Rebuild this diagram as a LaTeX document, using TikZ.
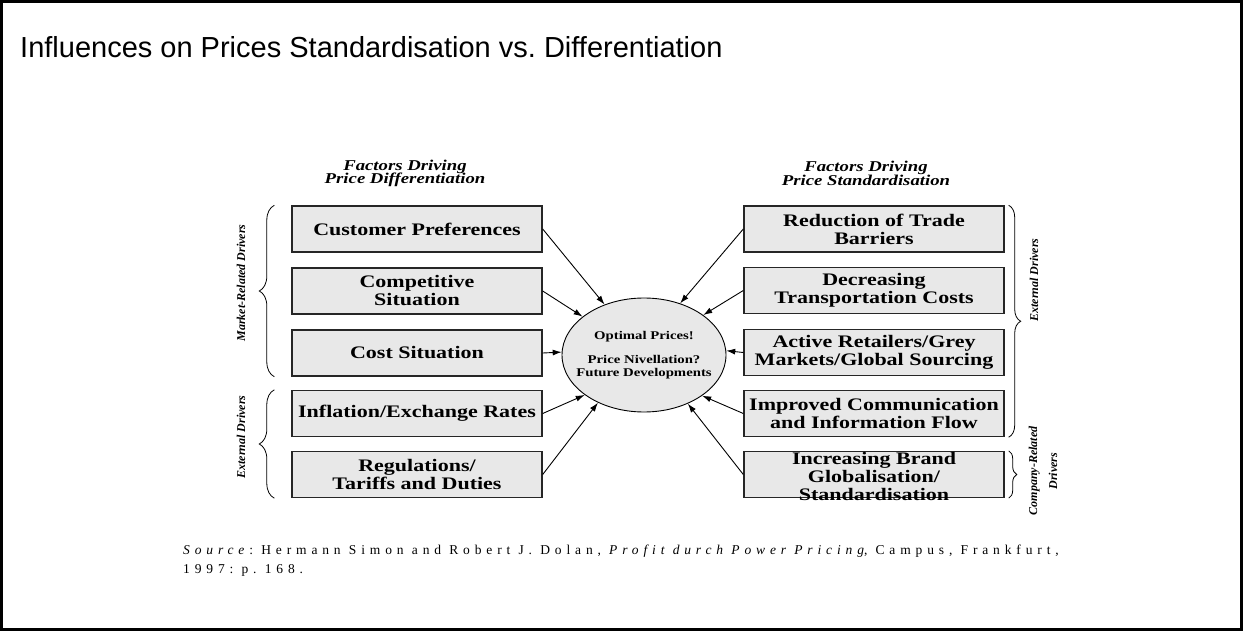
\documentclass[tikz,border=0pt]{standalone}
\usepackage{fontspec}
\setmainfont{Liberation Serif}
\newfontfamily\widefont{Liberation Serif}[FakeStretch=1.25]
\newfontfamily\titlefont{Liberation Sans}
\newfontfamily\srcfont{Liberation Serif}[LetterSpace=36]
\usetikzlibrary{shapes.geometric,arrows.meta,decorations.pathreplacing}
\definecolor{boxgray}{HTML}{E8E8E8}
\newcommand{\fsz}[2]{\fontsize{#1}{#2}\selectfont\lineskiplimit=-50pt\relax}
\frenchspacing

\begin{document}
\begin{tikzpicture}[x=1pt, y=-1pt,
    factor/.style={draw=black!85, line width=1.4pt, fill=boxgray, minimum height=46pt,
      inner sep=0pt, align=center, font=\widefont\bfseries\fsz{17.6}{18}},
    heading/.style={align=center, inner sep=0pt, font=\widefont\bfseries\itshape\fsz{15}{13.5}},
    driver/.style={rotate=90, align=center, inner sep=0pt, font=\bfseries\itshape\fsz{12}{20}},
    feed/.style={-{Latex[length=9pt,width=6pt]}, line width=0.9pt},
    grouping/.style={decorate, decoration={brace, amplitude=#1}, line width=0.8pt}]

    \def \lx {417} % centre of the left column
    \def \rx {874} % centre of the right column
    \useasboundingbox (0,0) rectangle (1243,631);
    \draw[line width=3pt] (1.5,1.5) rectangle (1241.5,629.5);

    \node[anchor=base west, inner sep=0pt, font=\titlefont\fontsize{29}{34}\selectfont] (title) at (20,58)
      {Influences on Prices Standardisation vs. Differentiation};

    % column headings
    \node[heading] (hdiff) at (405,173.5) {Factors Driving\\Price Differentiation};
    \node[heading] (hstan) at (866,173.5) {Factors Driving\\Price Standardisation};

    % the price in the middle (text kept apart so the ellipse keeps its size)
    \node[ellipse, draw, line width=0.9pt, fill=boxgray, minimum width=164pt, minimum height=114pt,
      inner sep=0pt] (ell) at (644,355) {};
    \node[align=center, inner sep=0pt, font=\widefont\bfseries\fsz{11.8}{12.3}] (elltxt) at (ell)
      {Optimal Prices!\\[12pt]Price Nivellation?\\Future Developments};

    % left factors
    \foreach \nm/\y/\ang/\txt in {cust/229/128/Customer Preferences,
        comp/291/148/{Competitive\\Situation}, cost/353/178/Cost Situation,
        infl/413.5/214/{Inflation/Exchange Rates}, regu/474.5/226/{Regulations/\\Tariffs and Duties}}
    {
      \node[factor, minimum width=250pt] (\nm) at (\lx,\y) {\txt};
      \draw[feed] (\nm.east) -- (ell.\ang);
    }

    % right factors
    \foreach \nm/\y/\ang/\txt in {trade/229/55/{Reduction of Trade\\Barriers},
        trans/290.5/34/{Decreasing\\Transportation Costs},
        retail/352.5/3/{Active Retailers/Grey\\Markets/Global Sourcing},
        comm/413.5/325/{Improved Communication\\and Information Flow}}
    {
      \node[factor, minimum width=260pt] (\nm) at (\rx,\y) {\txt};
      \draw[feed] (\nm.west) -- (ell.\ang);
    }
    \node[factor, minimum width=260pt] (brand) at (\rx,474.5) {};
    \node[factor, draw=none, fill=none] (brandtxt) at (\rx,476.5)
      {Increasing Brand\\Globalisation/\\Standardisation};
    \draw[feed] (brand.west) -- (ell.312);

    % braces and driver labels
    \draw[grouping=15pt] ([xshift=-17pt]cost.south west) -- ([xshift=-17pt]cust.north west);
    \draw[grouping=15pt] ([xshift=-17pt]regu.south west) -- ([xshift=-17pt]infl.north west);
    \draw[grouping=12pt] ([xshift=4pt]trade.north east) -- ([xshift=4pt]comm.south east);
    \draw[grouping=8pt] ([xshift=4pt]brand.north east) -- ([xshift=4pt]brand.south east);
    \node[driver] (mkt) at (241,283) {Market-Related Drivers};
    \node[driver] (extl) at (241,437) {External Drivers};
    \node[driver] (extr) at (1034,280) {External Drivers};
    \node[driver] (corel) at (1043,471) {Company-Related\\Drivers};

    \node[anchor=north west, align=left, inner sep=0pt, font=\srcfont\fsz{13.5}{19}] (src) at (183,545)
      {\textit{Source}: Hermann Simon and Robert J. Dolan, \textit{Profit durch Power Pricing}, Campus, Frankfurt,\\
       1997: p. 168.};
\end{tikzpicture}
\end{document}
